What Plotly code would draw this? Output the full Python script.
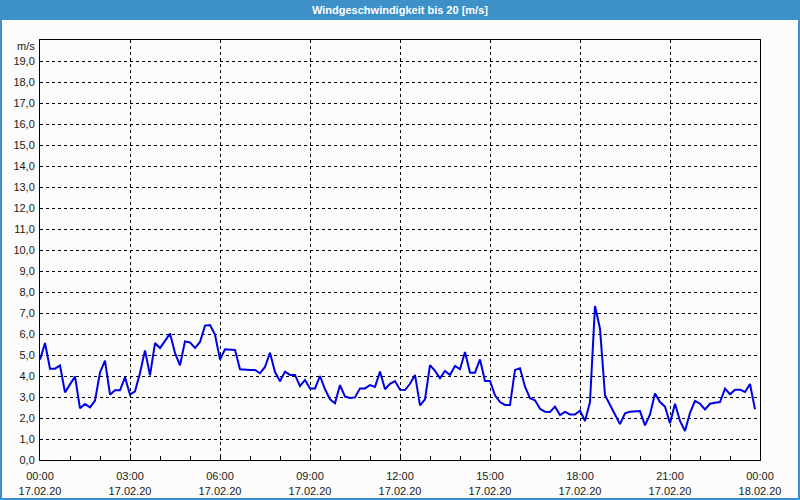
import plotly.graph_objects as go
import pandas as pd

# 10-minute wind speed samples, 17.02.20 00:00 .. 23:50
speed = [
    4.78, 5.57, 4.35, 4.35, 4.50, 3.22, 3.60, 3.98, 2.46, 2.67, 2.51, 2.83,
    4.17, 4.73, 3.11, 3.32, 3.32, 3.94, 3.11, 3.27, 4.14, 5.22, 4.03, 5.57,
    5.33, 5.70, 6.02, 5.10, 4.51, 5.65, 5.60, 5.33, 5.62, 6.40, 6.43, 5.97,
    4.78, 5.27, 5.24, 5.24, 4.32, 4.29, 4.29, 4.29, 4.13, 4.43, 5.11, 4.19,
    3.75, 4.21, 4.05, 4.05, 3.52, 3.81, 3.41, 3.41, 4.00, 3.37, 2.89, 2.70,
    3.57, 3.02, 2.95, 2.98, 3.41, 3.41, 3.57, 3.48, 4.21, 3.37, 3.63, 3.76,
    3.35, 3.33, 3.63, 4.05, 2.60, 2.89, 4.52, 4.24, 3.89, 4.24, 4.05, 4.48,
    4.32, 5.14, 4.16, 4.16, 4.79, 3.76, 3.76, 3.08, 2.76, 2.62, 2.62, 4.29,
    4.37, 3.49, 2.94, 2.84, 2.44, 2.30, 2.29, 2.54, 2.14, 2.29, 2.17, 2.17,
    2.35, 1.86, 2.76, 7.33, 6.25, 3.08, 2.65, 2.17, 1.71, 2.22, 2.30, 2.33,
    2.33, 1.65, 2.17, 3.17, 2.76, 2.54, 1.75, 2.68, 1.86, 1.38, 2.25, 2.81,
    2.68, 2.41, 2.68, 2.73, 2.76, 3.40, 3.13, 3.35, 3.35, 3.24, 3.62, 2.41,
]
times = pd.date_range("2020-02-17 00:00", periods=len(speed), freq="10min")

tick_times = ["2020-02-17 00:00", "2020-02-17 03:00", "2020-02-17 06:00",
              "2020-02-17 09:00", "2020-02-17 12:00", "2020-02-17 15:00",
              "2020-02-17 18:00", "2020-02-17 21:00", "2020-02-18 00:00"]
tick_labels = ["00:00<br>17.02.20", "03:00<br>17.02.20", "06:00<br>17.02.20",
               "09:00<br>17.02.20", "12:00<br>17.02.20", "15:00<br>17.02.20",
               "18:00<br>17.02.20", "21:00<br>17.02.20", "00:00<br>18.02.20"]
y_ticks = list(range(0, 20))
y_labels = [f"{v},0" for v in y_ticks]

title_text = "Windgeschwindigkeit bis 20 [m/s]"
unit_text = "m/s"

BG = "#fbfcfb"
BLUE = "#3d90c8"
FONT = "Liberation Sans, Arial, sans-serif"

fig = go.Figure()
fig.add_trace(go.Scatter(x=times, y=speed, mode="lines",
                         line=dict(color="#0000e6", width=2),
                         hoverinfo="skip", showlegend=False))

W, H = 800, 500
L, R, T, B = 40, 40, 40, 40
pw, ph = W - L - R, H - T - B

def px_x(p):
    return (p - L) / pw

def px_y(p):
    return 1 - (p - T) / ph

shapes = [
    dict(type="rect", xref="paper", yref="paper",
         x0=px_x(0), x1=px_x(W), y0=px_y(20), y1=px_y(0),
         fillcolor=BLUE, line=dict(width=0), layer="above"),
    dict(type="rect", xref="paper", yref="paper",
         x0=px_x(0), x1=px_x(2), y0=px_y(H), y1=px_y(0),
         fillcolor=BLUE, line=dict(width=0), layer="above"),
    dict(type="rect", xref="paper", yref="paper",
         x0=px_x(W - 2), x1=px_x(W), y0=px_y(H), y1=px_y(0),
         fillcolor=BLUE, line=dict(width=0), layer="above"),
    dict(type="rect", xref="paper", yref="paper",
         x0=px_x(0), x1=px_x(W), y0=px_y(H), y1=px_y(H - 2),
         fillcolor=BLUE, line=dict(width=0), layer="above"),
]

fig.update_layout(
    width=W, height=H,
    margin=dict(l=L, r=R, t=T, b=B),
    paper_bgcolor=BG, plot_bgcolor=BG,
    font=dict(family=FONT, size=11, color="#1a1a1a"),
    shapes=shapes,
    annotations=[
        dict(text=f"<b>{title_text}</b>", xref="paper", yref="paper",
             x=0.5, y=px_y(10), xanchor="center", yanchor="middle",
             showarrow=False, font=dict(color="white", size=11, family=FONT)),
        dict(text=unit_text, xref="paper", yref="paper",
             x=px_x(37), y=px_y(46), xanchor="right", yanchor="middle",
             showarrow=False, font=dict(size=11)),
    ],
    xaxis=dict(
        type="date",
        range=["2020-02-17 00:00", "2020-02-18 00:00"],
        tickmode="array", tickvals=tick_times, ticktext=tick_labels,
        showgrid=True, gridcolor="black", gridwidth=1, griddash="3px,3px",
        ticks="inside", ticklen=4, tickcolor="black",
        ticklabelstandoff=6, automargin=False,
        minor=dict(dtick=3600000, ticks="inside", ticklen=4, tickcolor="black",
                   showgrid=False),
        showline=True, linecolor="black", linewidth=1, mirror=True,
        zeroline=False, fixedrange=True,
    ),
    yaxis=dict(
        range=[0, 20],
        tickmode="array", tickvals=y_ticks, ticktext=y_labels,
        showgrid=True, gridcolor="black", gridwidth=1, griddash="3px,3px",
        ticks="", ticklabelstandoff=2, automargin=False,
        showline=True, linecolor="black", linewidth=1, mirror=True,
        zeroline=False, fixedrange=True,
    ),
)

fig.write_html("out.html")
